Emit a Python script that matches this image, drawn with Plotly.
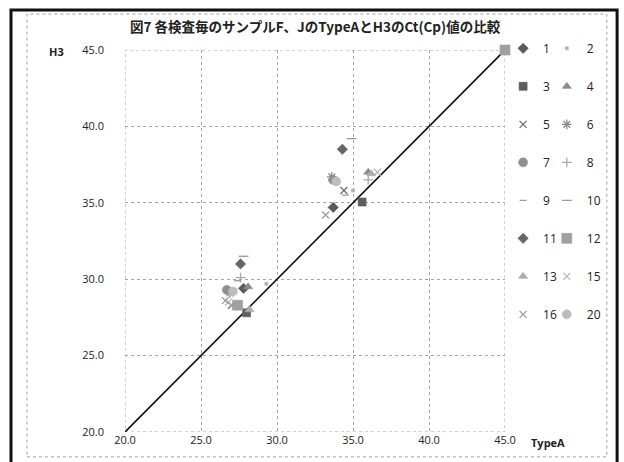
import plotly.graph_objects as go

# Test series shown in the legend (two columns: odd positions left, even right)
series_names = ["1", "2", "3", "4", "5", "6", "7", "8",
                "9", "10", "11", "12", "13", "15", "16", "20"]

# TypeA Ct(Cp) for samples F and J per test
typea_values = [
    [27.8, 33.7], [29.3, 35.0], [28.0, 35.6], [28.1, 36.0],
    [27.0, 34.4], [26.9, 33.6], [26.7, 33.7], [27.6, 36.0],
    [27.4, 34.5], [27.8, 34.9], [27.6, 34.3], [27.4, 45.0],
    [28.2, 36.2], [26.8, 36.6], [26.6, 33.2], [27.1, 33.9],
]

# H3 Ct(Cp) for samples F and J per test
h3_values = [
    [29.4, 34.7], [29.7, 35.8], [27.8, 35.05], [29.5, 37.0],
    [28.3, 35.8], [29.1, 36.7], [29.3, 36.5], [30.1, 36.5],
    [29.9, 35.5], [31.5, 39.2], [31.0, 38.5], [28.3, 45.0],
    [28.0, 36.9], [28.5, 37.0], [28.6, 34.2], [29.2, 36.4],
]

# Reference line y = x
diag_x = [20, 45]
diag_y = [20, 45]

tick_vals = [20, 25, 30, 35, 40, 45]
tick_text = ["20.0", "25.0", "30.0", "35.0", "40.0", "45.0"]

marker_symbols = ["diamond", "square", "square", "triangle-up",
                  "x-thin-open", "asterisk-open", "circle", "cross-thin-open",
                  "line-ew-open", "line-ew-open", "diamond", "square",
                  "triangle-up", "x-thin-open", "x-thin-open", "circle"]
marker_colors = ["#5a5a5a", "#b0b0b0", "#5e5e5e", "#8a8a8a",
                 "#6e6e6e", "#8c8c8c", "#8e8e8e", "#a8a8a8",
                 "#9a9a9a", "#9a9a9a", "#666666", "#a0a0a0",
                 "#acacac", "#b8b8b8", "#9c9c9c", "#bdbdbd"]
marker_sizes = [8, 3, 8, 8, 7, 8, 9, 7, 5, 7, 8, 10, 8, 7, 7, 9]

FONT = "Open Sans, Liberation Sans, sans-serif"
TITLE_FONT = "Noto Sans CJK JP, sans-serif"

fig = go.Figure()

fig.add_trace(go.Scatter(
    x=diag_x, y=diag_y, mode="lines",
    line=dict(color="#111111", width=1.6),
    showlegend=False, hoverinfo="skip",
))

for i, name in enumerate(series_names):
    sym = marker_symbols[i]
    col = marker_colors[i]
    open_sym = sym.endswith("-open")
    fig.add_trace(go.Scatter(
        x=typea_values[i], y=h3_values[i], mode="markers", name=name,
        legend="legend" if i % 2 == 0 else "legend2",
        legendgroup=name, cliponaxis=False,
        marker=dict(
            symbol=sym, size=marker_sizes[i], color=col,
            line=dict(color=col, width=1.3 if open_sym else 0.6),
        ),
    ))

axis_common = dict(
    range=[20, 45], tickvals=tick_vals, ticktext=tick_text,
    showgrid=True, gridcolor="#a4a4a4", griddash="dot", gridwidth=1,
    zeroline=False, showline=False, ticks="",
    tickfont=dict(family=FONT, size=11, color="#222222"),
    fixedrange=True,
)

legend_common = dict(
    xanchor="left", yanchor="bottom", orientation="v", y=0.27,
    font=dict(family=FONT, size=12, color="#222222"),
    tracegroupgap=19, bgcolor="rgba(0,0,0,0)", borderwidth=0,
    itemwidth=30,
)

fig.update_layout(
    width=624, height=462,
    margin=dict(l=125, r=119, t=50, b=30, autoexpand=False),
    paper_bgcolor="white", plot_bgcolor="white",
    title=dict(
        text="<b>図7 各検査毎のサンプルF、JのTypeAとH3のCt(Cp)値の比較</b>",
        font=dict(family=TITLE_FONT, size=13.5, color="#222222"),
        x=0.505, xanchor="center", y=0.94, yanchor="middle",
    ),
    xaxis=dict(**axis_common),
    yaxis=dict(**axis_common, ticklabelstandoff=20),
    legend=dict(**legend_common, x=0.995),
    legend2=dict(**legend_common, x=1.11),
    showlegend=True,
    annotations=[
        dict(text="<b>H3</b>", xref="paper", yref="paper", x=-0.18, y=0.995,
             xanchor="center", yanchor="middle",
             showarrow=False, font=dict(family=FONT, size=11, color="#222222")),
        dict(text="<b>TypeA</b>", xref="paper", yref="paper", x=1.113, y=-0.027,
             xanchor="center", yanchor="middle",
             showarrow=False, font=dict(family=FONT, size=11, color="#222222")),
    ],
    shapes=[
        # dotted border of the plotting area
        dict(type="rect", xref="x", yref="y", x0=20, x1=45, y0=20, y1=45,
             line=dict(color="#a4a4a4", width=1, dash="dot"), layer="below"),
        # chart-area dotted border
        dict(type="rect", xref="paper", yref="paper",
             x0=-0.258, x1=1.268, y0=-0.065, y1=1.094,
             line=dict(color="#a0a0a0", width=1, dash="dot")),
        # outer black frame
        dict(type="rect", xref="paper", yref="paper",
             x0=-0.3, x1=1.295, y0=-0.12, y1=1.105,
             line=dict(color="#111111", width=3)),
    ],
)

fig.write_html("out.html")
